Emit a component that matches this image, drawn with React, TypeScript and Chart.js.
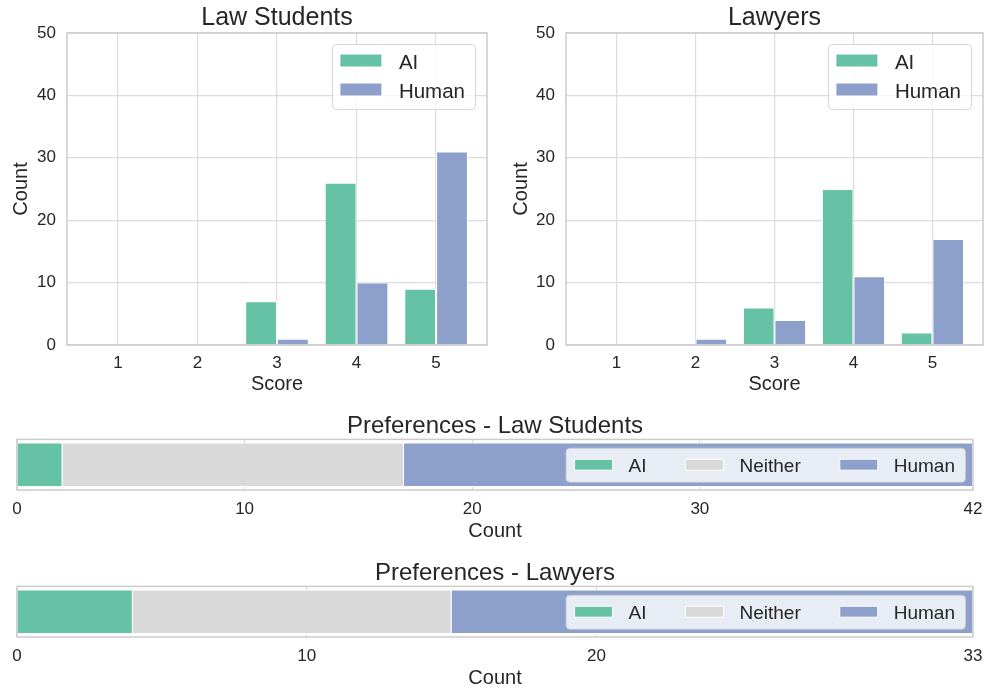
import React, { useEffect, useRef } from 'react';
import { Chart, registerables } from 'chart.js';

Chart.register(...registerables);

// ---- data ----
const scores = [1, 2, 3, 4, 5];
const studentsAI = [0, 0, 7, 26, 9];
const studentsHuman = [0, 0, 1, 10, 31];
const lawyersAI = [0, 0, 6, 25, 2];
const lawyersHuman = [0, 1, 4, 11, 17];
const countTicks = [0, 10, 20, 30, 40, 50];
const seriesLabels = ['AI', 'Human'];
const prefLabels = ['AI', 'Neither', 'Human'];
const prefStudents = [2, 15, 25];
const prefLawyers = [4, 11, 18];
const prefStudentsTicks = [0, 10, 20, 30, 42];
const prefLawyersTicks = [0, 10, 20, 33];

// ---- styles ----
const GREEN = '#66c2a5';
const BLUE = '#8da0cb';
const GRAY = '#d9d9d9';
const TEXT = '#262626';
const GRID = '#dcdcdc';
const EDGE = '#cccccc';
const FONT = "'Liberation Sans', Arial, sans-serif";

const framePlugin = {
  id: 'frameBox',
  afterDatasetsDraw(chart: any) {
    const { ctx, chartArea: a } = chart;
    ctx.save();
    ctx.strokeStyle = EDGE;
    ctx.lineWidth = 1.5;
    ctx.strokeRect(a.left, a.top, a.right - a.left, a.bottom - a.top);
    ctx.restore();
  },
};

function legendBox(ctx: any, x: number, y: number, w: number, h: number) {
  ctx.beginPath();
  if (ctx.roundRect) ctx.roundRect(x + 0.5, y + 0.5, w, h, 4);
  else ctx.rect(x + 0.5, y + 0.5, w, h);
  ctx.fillStyle = 'rgba(255,255,255,0.8)';
  ctx.fill();
  ctx.strokeStyle = 'rgba(204,204,204,0.8)';
  ctx.lineWidth = 1;
  ctx.stroke();
}

function vLegendPlugin(labels: string[], colors: string[]) {
  return {
    id: 'vLegend',
    afterDraw(chart: any) {
      const { ctx, chartArea: a } = chart;
      const fs = 20.5;
      ctx.save();
      ctx.font = `${fs}px ${FONT}`;
      const maxW = Math.max(...labels.map((l) => ctx.measureText(l).width));
      const padL = 8, handle = 42, handleH = 13, gap = 17, padR = 10, rowH = 29;
      const w = padL + handle + gap + maxW + padR;
      const h = 65;
      const x = a.right - 12 - w;
      const y = a.top + 11;
      legendBox(ctx, x, y, w, h);
      labels.forEach((l, i) => {
        const cy = y + 17.5 + i * rowH;
        ctx.fillStyle = colors[i];
        ctx.fillRect(x + padL, cy - handleH / 2 - 1, handle, handleH);
        ctx.strokeStyle = '#ffffff';
        ctx.lineWidth = 1;
        ctx.strokeRect(x + padL, cy - handleH / 2 - 1, handle, handleH);
        ctx.fillStyle = TEXT;
        ctx.textBaseline = 'alphabetic';
        ctx.textAlign = 'left';
        ctx.fillText(l, x + padL + handle + gap, cy + 0.36 * fs);
      });
      ctx.restore();
    },
  };
}

function hLegendPlugin(labels: string[], colors: string[]) {
  return {
    id: 'hLegend',
    afterDraw(chart: any) {
      const { ctx, chartArea: a } = chart;
      const fs = 19;
      ctx.save();
      ctx.font = `${fs}px ${FONT}`;
      const padL = 9, handle = 38, handleH = 11, gap = 16, colSp = 39, padR = 10;
      const widths = labels.map((l) => ctx.measureText(l).width);
      let w = padL + padR;
      widths.forEach((tw, i) => {
        w += handle + gap + tw + (i < labels.length - 1 ? colSp : 0);
      });
      const h = 34;
      const x = a.right - 8 - w;
      const cyBox = (a.top + a.bottom) / 2;
      const y = cyBox - h / 2;
      legendBox(ctx, x, y, w, h);
      let cx = x + padL;
      labels.forEach((l, i) => {
        ctx.fillStyle = colors[i];
        ctx.fillRect(cx, cyBox - handleH / 2, handle, handleH);
        ctx.strokeStyle = '#ffffff';
        ctx.lineWidth = 1;
        ctx.strokeRect(cx, cyBox - handleH / 2, handle, handleH);
        ctx.fillStyle = TEXT;
        ctx.textBaseline = 'alphabetic';
        ctx.textAlign = 'left';
        ctx.fillText(l, cx + handle + gap, cyBox + 0.36 * fs);
        cx += handle + gap + widths[i] + colSp;
      });
      ctx.restore();
    },
  };
}

function topConfig(title: string, ai: number[], human: number[], yWidth: number, yTitlePad: number, rightPad: number) {
  const series = [ai, human];
  const colors = [GREEN, BLUE];
  return {
    type: 'bar',
    data: {
      datasets: series.map((vals, k) => ({
        label: seriesLabels[k],
        data: scores.map((s, i) => ({ x: s, y: vals[i] })),
        backgroundColor: colors[k],
        borderColor: '#ffffff',
        borderWidth: 1,
        inflateAmount: 0,
        categoryPercentage: 0.8,
        barPercentage: 1,
      })),
    },
    options: {
      animation: false,
      responsive: false,
      maintainAspectRatio: false,
      layout: { padding: { left: 0, right: rightPad, top: 0, bottom: 0 } },
      plugins: {
        legend: { display: false },
        tooltip: { enabled: false },
        title: {
          display: true,
          fullSize: false,
          text: title,
          color: TEXT,
          font: { family: FONT, size: 25, weight: 'normal', lineHeight: 1.2 },
          padding: { top: 3, bottom: 0 },
        },
      },
      scales: {
        x: {
          type: 'linear',
          min: 0.36,
          max: 5.64,
          offset: false,
          grid: { offset: false, color: GRID, lineWidth: 1.2, drawTicks: false },
          border: { display: false },
          ticks: { color: TEXT, font: { family: FONT, size: 17 }, padding: 8, autoSkip: false, maxRotation: 0 },
          afterBuildTicks: (s: any) => {
            s.ticks = scores.map((v) => ({ value: v }));
          },
          afterFit: (s: any) => {
            s.height = 55;
            s.paddingLeft = 0;
            s.paddingRight = 0;
          },
          title: {
            display: true,
            text: 'Score',
            color: TEXT,
            font: { family: FONT, size: 20 },
            padding: { top: 0, bottom: 4 },
          },
        },
        y: {
          type: 'linear',
          min: 0,
          max: 50,
          grid: { color: GRID, lineWidth: 1.2, drawTicks: false },
          border: { display: false },
          ticks: { color: TEXT, font: { family: FONT, size: 17 }, padding: 11 },
          afterBuildTicks: (s: any) => {
            s.ticks = countTicks.map((v) => ({ value: v }));
          },
          afterFit: (s: any) => {
            s.width = yWidth;
          },
          title: {
            display: true,
            text: 'Count',
            color: TEXT,
            font: { family: FONT, size: 20 },
            padding: { top: yTitlePad, bottom: 0 },
          },
        },
      },
    },
    plugins: [framePlugin, vLegendPlugin(seriesLabels, colors)],
  };
}

function prefConfig(title: string, values: number[], ticks: number[], axisH: number, titlePadB: number) {
  const colors = [GREEN, GRAY, BLUE];
  const maxV = ticks[ticks.length - 1];
  return {
    type: 'bar',
    data: {
      labels: [''],
      datasets: prefLabels.map((l, i) => ({
        label: l,
        data: [values[i]],
        backgroundColor: colors[i],
        borderColor: '#ffffff',
        borderWidth: 1,
        inflateAmount: 0,
        categoryPercentage: 0.88,
        barPercentage: 1,
      })),
    },
    options: {
      indexAxis: 'y',
      animation: false,
      responsive: false,
      maintainAspectRatio: false,
      layout: { padding: { left: 17, right: 16, top: 0, bottom: 0 } },
      plugins: {
        legend: { display: false },
        tooltip: { enabled: false },
        title: {
          display: true,
          fullSize: false,
          text: title,
          color: TEXT,
          font: { family: FONT, size: 24, weight: 'normal', lineHeight: 1.1 },
          padding: { top: 13, bottom: 0 },
        },
      },
      scales: {
        x: {
          type: 'linear',
          stacked: true,
          min: 0,
          max: maxV,
          grid: { color: GRID, lineWidth: 1.2, drawTicks: false },
          border: { display: false },
          ticks: { color: TEXT, font: { family: FONT, size: 17 }, padding: 9, autoSkip: false, maxRotation: 0 },
          afterBuildTicks: (s: any) => {
            s.ticks = ticks.map((v) => ({ value: v }));
          },
          afterFit: (s: any) => {
            s.height = axisH;
            s.paddingLeft = 0;
            s.paddingRight = 0;
          },
          title: {
            display: true,
            text: 'Count',
            color: TEXT,
            font: { family: FONT, size: 20 },
            padding: { top: 0, bottom: titlePadB },
          },
        },
        y: { stacked: true, display: false },
      },
    },
    plugins: [framePlugin, hLegendPlugin(prefLabels, colors)],
  };
}

function ChartBox(props: { left: number; top: number; width: number; height: number; make: () => any }) {
  const ref = useRef<HTMLCanvasElement | null>(null);
  useEffect(() => {
    if (!ref.current) return;
    const chart = new Chart(ref.current, props.make());
    return () => chart.destroy();
  }, []);
  return (
    <div style={{ position: 'absolute', left: props.left, top: props.top, width: props.width, height: props.height }}>
      <canvas ref={ref} width={props.width} height={props.height} style={{ display: 'block', width: props.width, height: props.height }} />
    </div>
  );
}

export default function App() {
  return (
    <div style={{ position: 'fixed', left: 0, top: 0, width: 989, height: 693, overflow: 'hidden', background: '#ffffff' }}>
      <ChartBox left={0} top={0} width={495} height={400} make={() => topConfig('Law Students', studentsAI, studentsHuman, 67, 9, 8)} />
      <ChartBox left={495} top={0} width={494} height={400} make={() => topConfig('Lawyers', lawyersAI, lawyersHuman, 71, 14, 6)} />
      <ChartBox left={0} top={400} width={989} height={148} make={() => prefConfig('Preferences - Law Students', prefStudents, prefStudentsTicks, 58, 5)} />
      <ChartBox left={0} top={547} width={989} height={146} make={() => prefConfig('Preferences - Lawyers', prefLawyers, prefLawyersTicks, 56, 3)} />
    </div>
  );
}
